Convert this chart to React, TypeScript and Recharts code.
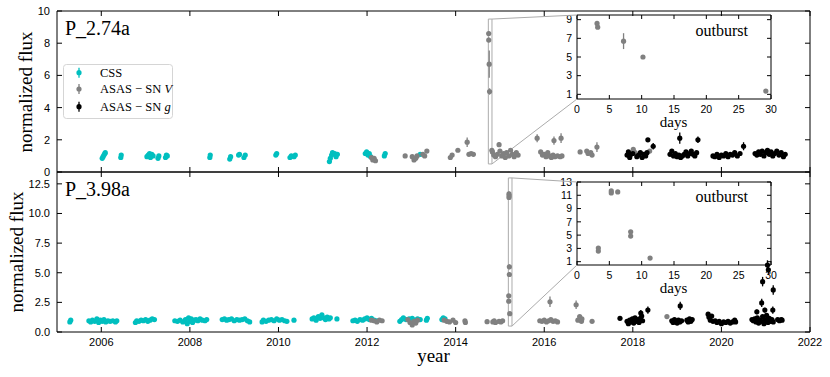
import React from 'react';
import { ScatterChart, Scatter, XAxis, YAxis, ErrorBar, ReferenceArea, ReferenceLine } from 'recharts';

type P = [number, number, number?];

// ---------------- data ----------------
const yearTicks = [2006, 2008, 2010, 2012, 2014, 2016, 2018, 2020, 2022];
const topFluxTicks = [0, 2, 4, 6, 8, 10];
const botFluxTicks = [0, 2.5, 5, 7.5, 10, 12.5];
const insetDayTicks = [0, 5, 10, 15, 20, 25, 30];
const insetTopTicks = [1, 3, 5, 7, 9];
const insetBotTicks = [1, 3, 5, 7, 9, 11, 13];

const panelTopName = 'P_2.74a';
const panelBotName = 'P_3.98a';

// outburst starts (year) and zoom window (days)
const T0_TOP = 2014.738;
const T0_BOT = 2015.19;
const OUTBURST_DAYS = 30;

const cssTop: P[] = [
  [2006.02, 0.85], [2006.04, 0.95], [2006.06, 1.05], [2006.08, 1.15], [2006.09, 1.2],
  [2006.44, 0.9], [2006.45, 1.05],
  [2007.03, 0.95], [2007.06, 1.05], [2007.09, 1.15], [2007.11, 0.9], [2007.14, 1.1], [2007.17, 1.0],
  [2007.28, 0.85], [2007.3, 1.0],
  [2007.45, 0.9], [2007.47, 1.05], [2007.49, 1.0],
  [2008.45, 0.9], [2008.46, 1.05],
  [2008.9, 0.8], [2008.92, 0.95],
  [2009.1, 1.05], [2009.12, 1.1],
  [2009.22, 0.9], [2009.25, 1.05],
  [2009.94, 1.05], [2009.96, 1.15],
  [2010.26, 0.9], [2010.29, 1.0], [2010.35, 0.95], [2010.38, 1.05],
  [2011.15, 0.65], [2011.17, 0.85], [2011.2, 1.05], [2011.22, 1.2], [2011.27, 1.15], [2011.3, 0.95], [2011.33, 1.1],
  [2011.96, 1.15], [2011.99, 1.25], [2012.02, 1.05], [2012.05, 1.15], [2012.08, 0.95],
  [2012.39, 1.0], [2012.41, 1.15],
  [2013.2, 1.1],
];

const asasVTop: P[] = [
  [2012.1, 0.9], [2012.13, 0.75], [2012.16, 0.85], [2012.19, 0.7],
  [2012.86, 1.0],
  [2013.02, 0.95], [2013.06, 0.75], [2013.1, 0.85], [2013.13, 1.0],
  [2013.26, 1.1], [2013.3, 1.0], [2013.35, 1.3],
  [2013.88, 0.9], [2013.92, 1.05], [2014.05, 1.35],
  [2014.26, 1.85, 0.3],
  [2014.3, 1.1], [2014.35, 1.15], [2014.4, 1.1],
  [2014.83, 1.25], [2014.86, 1.05], [2014.9, 0.95], [2014.94, 1.1], [2014.98, 1.7, 0.15], [2015.0, 1.3],
  [2015.04, 1.0], [2015.08, 1.15], [2015.12, 0.9], [2015.15, 1.2], [2015.2, 1.0], [2015.24, 1.35],
  [2015.28, 1.1], [2015.32, 0.95], [2015.37, 1.2], [2015.41, 1.05],
  [2015.84, 2.1, 0.25],
  [2015.92, 1.25], [2015.96, 1.05], [2016.0, 1.1], [2016.04, 0.95], [2016.08, 1.2], [2016.12, 1.0],
  [2016.16, 0.9], [2016.2, 1.05], [2016.24, 0.95], [2016.3, 1.0], [2016.36, 0.95], [2016.4, 1.0],
  [2016.22, 1.95, 0.25], [2016.38, 2.1, 0.3],
  [2016.81, 1.25],
  [2016.96, 1.3], [2016.99, 1.15], [2017.05, 1.2], [2017.08, 1.05],
  [2017.19, 1.55, 0.3],
  [2018.01, 1.4], [2018.05, 1.2], [2018.38, 1.3],
];

const asasGTop: P[] = [
  [2017.87, 1.05], [2017.9, 1.25], [2017.93, 0.9], [2017.96, 1.1], [2018.0, 1.15], [2018.09, 0.95],
  [2018.13, 1.05], [2018.17, 1.2], [2018.21, 0.9], [2018.25, 1.1], [2018.29, 1.0], [2018.32, 1.2],
  [2018.34, 2.0], [2018.46, 1.6, 0.2],
  [2018.84, 1.1], [2018.88, 1.3], [2018.92, 1.0], [2018.96, 1.15], [2019.0, 0.95], [2019.04, 1.05],
  [2019.08, 0.9], [2019.12, 1.0], [2019.16, 1.1], [2019.2, 1.25], [2019.24, 1.0], [2019.28, 1.15],
  [2019.32, 1.3], [2019.36, 1.1], [2019.4, 1.0], [2019.44, 1.2],
  [2019.06, 2.1, 0.35], [2019.47, 2.0, 0.2],
  [2019.81, 1.0], [2019.85, 0.95], [2019.9, 1.1], [2019.95, 0.9], [2020.0, 1.05], [2020.05, 1.0],
  [2020.1, 1.15], [2020.15, 0.95], [2020.2, 1.1], [2020.25, 1.05], [2020.3, 1.2], [2020.36, 1.0], [2020.42, 1.15],
  [2020.5, 1.6, 0.25],
  [2020.76, 1.15], [2020.8, 1.05], [2020.84, 1.25], [2020.88, 1.1], [2020.92, 1.3], [2020.96, 1.0],
  [2021.0, 1.2], [2021.04, 1.35], [2021.08, 1.1], [2021.12, 1.25], [2021.16, 1.0], [2021.2, 1.15],
  [2021.25, 1.3], [2021.3, 1.05], [2021.35, 1.2], [2021.4, 0.95], [2021.44, 1.1],
];

// outburst points: [days since T0, flux, err]
const burstTop: P[] = [
  [3.1, 8.6, 0.15], [3.2, 8.2, 0.15], [7.2, 6.7, 0.85], [10.2, 5.0, 0.2], [29.2, 1.35, 0.1],
];

const cssBot: P[] = [
  [2005.29, 0.85], [2005.31, 1.0],
  [2005.72, 0.95], [2005.76, 0.85], [2005.8, 1.0], [2005.85, 0.9], [2005.9, 1.1], [2005.94, 0.8],
  [2005.98, 1.0], [2006.02, 0.9], [2006.06, 1.05], [2006.1, 0.85], [2006.15, 0.95], [2006.2, 0.9],
  [2006.26, 0.95], [2006.32, 0.85], [2006.35, 0.95],
  [2006.77, 0.8], [2006.8, 0.95], [2006.85, 0.9], [2006.9, 1.0], [2006.95, 0.95], [2007.0, 1.05],
  [2007.05, 0.9], [2007.1, 1.0], [2007.15, 1.1], [2007.2, 1.05],
  [2007.66, 0.95], [2007.72, 0.9], [2007.78, 1.0], [2007.84, 0.85], [2007.9, 1.05], [2007.94, 0.7],
  [2007.97, 1.2], [2008.0, 0.9], [2008.03, 1.1], [2008.06, 0.8], [2008.1, 1.0], [2008.14, 1.05],
  [2008.18, 0.95], [2008.23, 1.1], [2008.28, 1.0], [2008.34, 0.95], [2008.38, 1.05],
  [2008.73, 1.05], [2008.78, 1.1], [2008.83, 1.0], [2008.88, 1.05], [2008.94, 1.1], [2009.0, 0.95],
  [2009.06, 1.05], [2009.12, 1.0], [2009.18, 1.05], [2009.24, 1.1], [2009.3, 0.95], [2009.35, 0.85],
  [2009.63, 0.85], [2009.66, 1.0], [2009.72, 0.9], [2009.78, 1.0], [2009.84, 1.05], [2009.9, 0.95],
  [2009.96, 1.1], [2010.02, 1.0], [2010.08, 1.05], [2010.14, 0.95], [2010.19, 0.9],
  [2010.35, 1.0],
  [2010.76, 1.1], [2010.8, 1.2], [2010.85, 1.0], [2010.9, 1.3], [2010.94, 1.15], [2010.98, 1.45],
  [2011.02, 1.2], [2011.06, 1.05], [2011.1, 1.25], [2011.14, 1.1], [2011.17, 1.2],
  [2011.32, 1.1],
  [2011.68, 0.95], [2011.73, 1.0], [2011.78, 0.9], [2011.84, 1.05], [2011.9, 1.0], [2011.95, 1.1],
  [2012.0, 1.2], [2012.05, 1.05], [2012.1, 1.15], [2012.16, 1.0], [2012.22, 0.95],
  [2012.74, 0.9], [2012.78, 1.05], [2012.82, 1.2], [2012.88, 1.05], [2012.95, 1.1], [2013.02, 1.15],
  [2013.08, 1.0], [2013.14, 1.1], [2013.2, 1.05],
  [2013.34, 1.0], [2013.36, 1.15],
  [2013.69, 1.05], [2013.72, 1.2], [2013.76, 1.1],
];

const asasVBot: P[] = [
  [2012.1, 1.0], [2012.16, 0.95], [2012.22, 0.85], [2012.28, 1.0], [2012.34, 0.95],
  [2012.92, 1.05], [2012.97, 0.8], [2013.02, 0.6], [2013.06, 0.9], [2013.1, 0.75], [2013.14, 1.0],
  [2013.74, 1.0], [2013.8, 0.9], [2013.86, 0.85], [2013.94, 1.0], [2014.0, 0.8],
  [2014.21, 0.95], [2014.22, 0.8],
  [2014.71, 0.87], [2014.84, 0.85], [2014.87, 0.95], [2014.9, 0.8], [2014.98, 0.9], [2015.02, 0.85], [2015.06, 0.95],
  [2015.9, 0.95], [2015.95, 0.9], [2016.0, 1.0], [2016.05, 0.85], [2016.1, 0.95], [2016.15, 1.05],
  [2016.2, 0.9], [2016.25, 0.95], [2016.3, 0.85],
  [2016.13, 2.55, 0.45], [2016.72, 2.3, 0.35],
  [2016.76, 1.0], [2016.8, 1.3], [2016.84, 0.9], [2016.85, 1.1],
  [2017.08, 0.9],
  [2018.77, 1.3],
];

const asasGBot: P[] = [
  [2017.71, 1.15],
  [2017.87, 0.9], [2017.9, 0.7], [2017.93, 1.0], [2017.96, 0.85], [2017.99, 1.1], [2018.02, 0.75],
  [2018.05, 1.2], [2018.08, 0.9], [2018.11, 1.05], [2018.14, 0.8], [2018.17, 1.15], [2018.2, 1.35], [2018.22, 0.95],
  [2018.18, 1.6, 0.25], [2018.34, 1.85, 0.3],
  [2018.88, 0.95], [2018.91, 0.8], [2018.94, 1.05], [2018.97, 0.9], [2019.0, 0.75], [2019.03, 1.0],
  [2019.06, 0.85], [2019.1, 0.95],
  [2019.07, 2.2, 0.35],
  [2019.22, 1.0], [2019.25, 0.85], [2019.28, 1.1], [2019.31, 0.9], [2019.34, 1.05],
  [2019.7, 1.5], [2019.72, 1.25], [2019.75, 1.0], [2019.78, 1.35], [2019.81, 0.9],
  [2019.86, 0.95], [2019.9, 0.8], [2019.95, 0.9], [2020.0, 0.7], [2020.05, 0.85], [2020.1, 0.8],
  [2020.15, 0.9], [2020.2, 0.75], [2020.25, 0.85],
  [2020.3, 1.0], [2020.32, 0.85],
  [2020.69, 1.05], [2020.72, 0.95], [2020.75, 1.1], [2020.78, 0.85], [2020.81, 1.2], [2020.84, 0.75],
  [2020.87, 1.0], [2020.9, 0.9], [2020.93, 1.3], [2020.96, 0.7], [2020.99, 1.0], [2021.02, 1.4],
  [2021.05, 0.8], [2021.08, 1.15], [2021.11, 0.9], [2021.14, 1.05], [2021.17, 0.85],
  [2020.8, 1.7, 0.2], [2020.98, 1.85, 0.2],
  [2020.91, 2.45, 0.35], [2020.93, 4.25, 0.4], [2021.04, 5.65, 0.4], [2021.06, 5.25, 0.35],
  [2021.17, 3.55, 0.4], [2021.16, 1.85, 0.3],
  [2021.27, 1.05], [2021.31, 0.95], [2021.35, 1.05], [2021.37, 1.0],
];

const burstBot: P[] = [
  [3.3, 3.05, 0.15], [3.3, 2.6, 0.15], [5.3, 11.65, 0.2], [5.3, 11.35, 0.2], [6.3, 11.5, 0.15],
  [8.3, 5.5, 0.2], [8.3, 4.85, 0.2], [11.3, 1.55, 0.1],
];

// ---------------- layout & style ----------------
const CANVAS_W = 830;
const CANVAS_H = 377;
const PLOT_L = 57;
const PLOT_R = 810;
const X_MIN = 2005;
const X_MAX = 2022;
const TOP_DOMAIN: [number, number] = [0, 10];
const BOT_DOMAIN: [number, number] = [0, 13.5];
const INSET_L = 577;
const INSET_R = 771;
const INSET_TOP_Y: [number, number] = [15, 99];
const INSET_BOT_Y: [number, number] = [182, 265];
const INSET_TOP_DOMAIN: [number, number] = [0.5, 9.5];
const INSET_BOT_DOMAIN: [number, number] = [0.5, 13];
const AX = 1; // thickness reserved for each axis band

const CYAN = '#00bfbf';
const GRAY = '#808080';
const BLACK = '#000000';
const ZOOM_GRAY = '#ababab';
const FONT_SANS = '"Liberation Sans", Arial, Helvetica, sans-serif';
const FONT_SERIF = '"Liberation Serif", "Times New Roman", serif';

const toPts = (arr: P[], defErr: number) => arr.map(([x, y, e]) => ({ x, y, e: e ?? defErr }));
const burstToYears = (arr: P[], t0: number) =>
  arr.map(([d, y, e]) => ({ x: t0 + d / 365.25, y, e: e ?? 0.1 }));

const pxToYear = (px: number) => X_MIN + ((px - PLOT_L) / (PLOT_R - PLOT_L)) * (X_MAX - X_MIN);
const pyToVal = (py: number, plotT: number, plotB: number, dom: [number, number]) =>
  dom[0] + ((plotB - py) / (plotB - plotT)) * (dom[1] - dom[0]);

const NoTick = () => <g />;
const dotShape = (color: string, r = 2.6) => (p: any) => <circle cx={p.cx} cy={p.cy} r={r} fill={color} />;

const tickStyle = { fontSize: 11, fill: '#000', fontFamily: FONT_SANS };
const insetTickStyle = { fontSize: 10.5, fill: '#000', fontFamily: FONT_SANS };

interface PanelProps {
  svgTop: number;
  svgH: number;
  plotT: number;
  plotB: number;
  dom: [number, number];
  yTicks: number[];
  yFmt: (v: number) => string;
  showX: boolean;
  css: P[];
  v: P[];
  g: P[];
  burst: P[];
  t0: number;
  insetY: [number, number];
  insetDom: [number, number];
}

function Panel(props: PanelProps) {
  const { svgTop, svgH, plotT, plotB, dom, yTicks, yFmt, showX, css, v, g, burst, t0, insetY, insetDom } = props;
  const x2 = t0 + OUTBURST_DAYS / 365.25;
  const insetX = pxToYear(INSET_L);
  const yInsetTop = pyToVal(insetY[0], plotT, plotB, dom);
  const yInsetBot = pyToVal(insetY[1], plotT, plotB, dom);
  const axisLine = { stroke: '#000', strokeWidth: 1 };
  const tickLine = { stroke: '#000', strokeWidth: 1 };
  return (
    <div style={{ position: 'absolute', left: 0, top: svgTop }}>
      <ScatterChart
        width={CANVAS_W}
        height={svgH}
        margin={{
          top: plotT - svgTop - AX,
          right: CANVAS_W - PLOT_R - AX,
          bottom: svgTop + svgH - plotB - AX,
          left: PLOT_L - AX,
        }}
      >
        <XAxis xAxisId="b" dataKey="x" type="number" domain={[X_MIN, X_MAX]} ticks={yearTicks} interval={0}
          height={AX} orientation="bottom" tickSize={-5} tickMargin={11} allowDataOverflow
          tick={showX ? tickStyle : NoTick} axisLine={axisLine} tickLine={tickLine} />
        <XAxis xAxisId="t" dataKey="x" type="number" domain={[X_MIN, X_MAX]} ticks={yearTicks} interval={0}
          height={AX} orientation="top" tickSize={-5} allowDataOverflow tick={NoTick}
          axisLine={axisLine} tickLine={tickLine} />
        <YAxis yAxisId="l" dataKey="y" type="number" domain={dom} ticks={yTicks} interval={0}
          width={AX} tickSize={-5} tickMargin={12} allowDataOverflow tickFormatter={yFmt}
          tick={tickStyle} axisLine={axisLine} tickLine={tickLine} />
        <YAxis yAxisId="r" dataKey="y" type="number" domain={dom} ticks={yTicks} interval={0}
          width={AX} orientation="right" tickSize={-5} allowDataOverflow tick={NoTick}
          axisLine={axisLine} tickLine={tickLine} />
        <ReferenceArea xAxisId="b" yAxisId="l" x1={t0} x2={x2} y1={insetDom[0]} y2={insetDom[1]}
          fill="none" fillOpacity={0} stroke={ZOOM_GRAY} strokeWidth={1} ifOverflow="visible" />
        <ReferenceLine xAxisId="b" yAxisId="l" segment={[{ x: x2, y: insetDom[1] }, { x: insetX, y: yInsetTop }]}
          stroke={ZOOM_GRAY} strokeWidth={1} ifOverflow="visible" />
        <ReferenceLine xAxisId="b" yAxisId="l" segment={[{ x: x2, y: insetDom[0] }, { x: insetX, y: yInsetBot }]}
          stroke={ZOOM_GRAY} strokeWidth={1} ifOverflow="visible" />
        <Scatter xAxisId="b" yAxisId="l" data={toPts(css, 0.08)} shape={dotShape(CYAN)} isAnimationActive={false}>
          <ErrorBar dataKey="e" direction="y" width={0} stroke={CYAN} strokeWidth={1.3} isAnimationActive={false} />
        </Scatter>
        <Scatter xAxisId="b" yAxisId="l" data={[...toPts(v, 0.1), ...burstToYears(burst, t0)]} shape={dotShape(GRAY)} isAnimationActive={false}>
          <ErrorBar dataKey="e" direction="y" width={0} stroke={GRAY} strokeWidth={1.3} isAnimationActive={false} />
        </Scatter>
        <Scatter xAxisId="b" yAxisId="l" data={toPts(g, 0.1)} shape={dotShape(BLACK)} isAnimationActive={false}>
          <ErrorBar dataKey="e" direction="y" width={0} stroke={BLACK} strokeWidth={1.3} isAnimationActive={false} />
        </Scatter>
      </ScatterChart>
    </div>
  );
}

interface InsetProps {
  svgTop: number;
  plotT: number;
  plotB: number;
  dom: [number, number];
  yTicks: number[];
  burst: P[];
}

function Inset({ svgTop, plotT, plotB, dom, yTicks, burst }: InsetProps) {
  const svgLeft = 540;
  const svgW = 270;
  const svgH = 140;
  const axisLine = { stroke: '#000', strokeWidth: 1 };
  const tickLine = { stroke: '#000', strokeWidth: 1 };
  return (
    <div style={{ position: 'absolute', left: svgLeft, top: svgTop }}>
      <ScatterChart width={svgW} height={svgH}
        margin={{
          top: plotT - svgTop - AX,
          right: svgLeft + svgW - INSET_R - AX,
          bottom: svgTop + svgH - plotB - AX,
          left: INSET_L - svgLeft - AX,
        }}>
        <XAxis xAxisId="b" dataKey="x" type="number" domain={[0, OUTBURST_DAYS]} ticks={insetDayTicks} interval={0}
          height={AX} orientation="bottom" tickSize={-4} tickMargin={11} allowDataOverflow
          tick={insetTickStyle} axisLine={axisLine} tickLine={tickLine} />
        <XAxis xAxisId="t" dataKey="x" type="number" domain={[0, OUTBURST_DAYS]} ticks={insetDayTicks} interval={0}
          height={AX} orientation="top" tickSize={-4} allowDataOverflow tick={NoTick}
          axisLine={axisLine} tickLine={tickLine} />
        <YAxis yAxisId="l" dataKey="y" type="number" domain={dom} ticks={yTicks} interval={0}
          width={AX} tickSize={-4} tickMargin={9} allowDataOverflow
          tick={insetTickStyle} axisLine={axisLine} tickLine={tickLine} />
        <YAxis yAxisId="r" dataKey="y" type="number" domain={dom} ticks={yTicks} interval={0}
          width={AX} orientation="right" tickSize={-4} allowDataOverflow tick={NoTick}
          axisLine={axisLine} tickLine={tickLine} />
        <Scatter xAxisId="b" yAxisId="l" data={toPts(burst, 0.1)} shape={dotShape(GRAY)} isAnimationActive={false}>
          <ErrorBar dataKey="e" direction="y" width={0} stroke={GRAY} strokeWidth={1.3} isAnimationActive={false} />
        </Scatter>
      </ScatterChart>
    </div>
  );
}

const legendItems = [
  { color: CYAN, label: 'CSS', italic: '' },
  { color: GRAY, label: 'ASAS \u2212 SN ', italic: 'V' },
  { color: BLACK, label: 'ASAS \u2212 SN ', italic: 'g' },
];

function Overlay() {
  return (
    <svg width={CANVAS_W} height={CANVAS_H} style={{ position: 'absolute', left: 0, top: 0, pointerEvents: 'none' }}>
      <g fontFamily={FONT_SERIF} fill="#000">
        <text x={65} y={35} fontSize={20}>{panelTopName}</text>
        <text x={65} y={196} fontSize={20}>{panelBotName}</text>
        <text transform="translate(32,92) rotate(-90)" textAnchor="middle" fontSize={19}>normalized flux</text>
        <text transform="translate(22.5,252) rotate(-90)" textAnchor="middle" fontSize={19}>normalized flux</text>
        <text x={433.5} y={362} textAnchor="middle" fontSize={19}>year</text>
        <text x={748} y={36} textAnchor="end" fontSize={16}>outburst</text>
        <text x={748} y={201.5} textAnchor="end" fontSize={16}>outburst</text>
        <text x={673.5} y={127} textAnchor="middle" fontSize={15}>days</text>
        <text x={673.5} y={293} textAnchor="middle" fontSize={15}>days</text>
      </g>
      <rect x={63.5} y={64.5} width={109} height={54} rx={3} fill="#fff" fillOpacity={0.8} stroke="#d5d5d5" />
      {legendItems.map((it, i) => {
        const cy = [72.7, 89, 106.7][i];
        return (
          <g key={i}>
            <line x1={79} x2={79} y1={cy - 5} y2={cy + 5} stroke={it.color} strokeWidth={1.3} />
            <circle cx={79} cy={cy} r={2.6} fill={it.color} />
            <text x={100} y={cy + 4} fontSize={12.5} fontFamily={FONT_SERIF}>
              {it.label}
              {it.italic ? <tspan fontStyle="italic">{it.italic}</tspan> : null}
            </text>
          </g>
        );
      })}
    </svg>
  );
}

export default function App() {
  return (
    <div style={{ position: 'absolute', left: 0, top: 0, width: CANVAS_W, height: CANVAS_H, background: '#fff' }}>
      <Inset svgTop={0} plotT={INSET_TOP_Y[0]} plotB={INSET_TOP_Y[1]} dom={INSET_TOP_DOMAIN} yTicks={insetTopTicks} burst={burstTop} />
      <Inset svgTop={160} plotT={INSET_BOT_Y[0]} plotB={INSET_BOT_Y[1]} dom={INSET_BOT_DOMAIN} yTicks={insetBotTicks} burst={burstBot} />
      <Panel svgTop={0} svgH={180} plotT={11} plotB={172} dom={TOP_DOMAIN} yTicks={topFluxTicks}
        yFmt={(val: number) => String(val)} showX={false} css={cssTop} v={asasVTop} g={asasGTop}
        burst={burstTop} t0={T0_TOP} insetY={INSET_TOP_Y} insetDom={INSET_TOP_DOMAIN} />
      <Panel svgTop={160} svgH={217} plotT={172} plotB={332} dom={BOT_DOMAIN} yTicks={botFluxTicks}
        yFmt={(val: number) => val.toFixed(1)} showX={true} css={cssBot} v={asasVBot} g={asasGBot}
        burst={burstBot} t0={T0_BOT} insetY={INSET_BOT_Y} insetDom={INSET_BOT_DOMAIN} />
      <Overlay />
    </div>
  );
}
